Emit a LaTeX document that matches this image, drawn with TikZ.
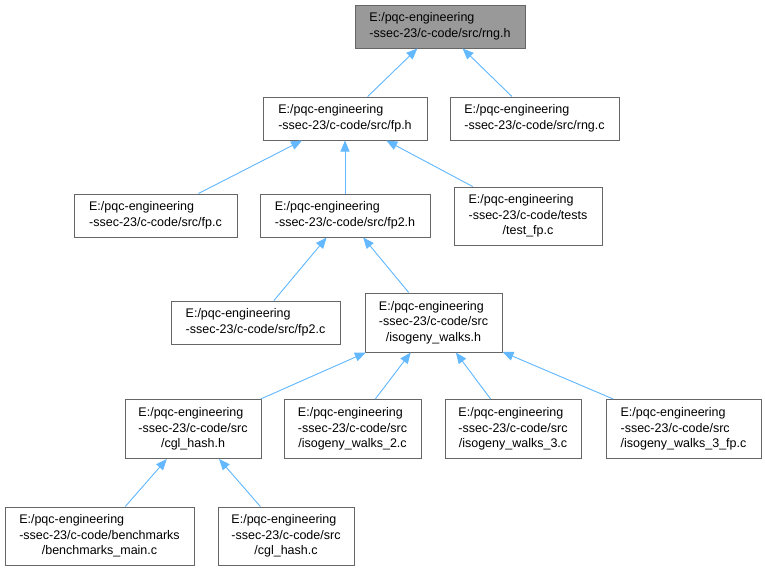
\documentclass[tikz,border=0pt]{standalone}
\usepackage{fontspec}
\setmainfont{Liberation Sans}
\usetikzlibrary{arrows.meta}
\definecolor{edgeblue}{HTML}{63B8FF}
\definecolor{boxline}{HTML}{666666}
\definecolor{curfill}{HTML}{999999}
\newcommand{\fname}[2]{\begin{tabular}{@{}l@{}}#1\\\multicolumn{1}{@{}c@{}}{#2}\end{tabular}}
\tikzset{
  filebox/.style={draw=boxline, line width=1pt, fill=white, inner sep=0pt, minimum height=43pt, font=\fontsize{12.5}{15.5}\selectfont},
  tallbox/.style={filebox, minimum height=59pt},
  curbox/.style={filebox, fill=curfill},
  incl/.style={->, draw=edgeblue, fill=edgeblue, line width=0.9pt}
}
\begin{document}
\begin{tikzpicture}[x=1pt, y=-1pt, >={Triangle[length=11pt,width=9pt]}]
\useasboundingbox (0,0) rectangle (765,571);
\node[curbox, minimum width=170pt] (rngh) at (440,26.5) {\fname{E:/pqc-engineering}{-ssec-23/c-code/src/rng.h}};
\node[filebox, minimum width=164pt] (fph) at (345,118.5) {\fname{E:/pqc-engineering}{-ssec-23/c-code/src/fp.h}};
\node[filebox, minimum width=169pt] (rngc) at (534.5,118.5) {\fname{E:/pqc-engineering}{-ssec-23/c-code/src/rng.c}};
\node[filebox, minimum width=163pt] (fpc) at (155.5,215.5) {\fname{E:/pqc-engineering}{-ssec-23/c-code/src/fp.c}};
\node[filebox, minimum width=170pt] (fp2h) at (345,215.5) {\fname{E:/pqc-engineering}{-ssec-23/c-code/src/fp2.h}};
\node[tallbox, minimum width=148pt, minimum height=58pt] (testfp) at (528,216) {\fname{E:/pqc-engineering\\-ssec-23/c-code/tests}{/test\_fp.c}};
\node[filebox, minimum width=169pt] (fp2c) at (255.5,322.5) {\fname{E:/pqc-engineering}{-ssec-23/c-code/src/fp2.c}};
\node[tallbox, minimum width=137pt] (isoh) at (433.5,322.5) {\fname{E:/pqc-engineering\\-ssec-23/c-code/src}{/isogeny\_walks.h}};
\node[tallbox, minimum width=136pt] (cglh) at (193,429) {\fname{E:/pqc-engineering\\-ssec-23/c-code/src}{/cgl\_hash.h}};
\node[tallbox, minimum width=137pt] (iso2) at (352.5,429) {\fname{E:/pqc-engineering\\-ssec-23/c-code/src}{/isogeny\_walks\_2.c}};
\node[tallbox, minimum width=136pt] (iso3) at (513,429) {\fname{E:/pqc-engineering\\-ssec-23/c-code/src}{/isogeny\_walks\_3.c}};
\node[tallbox, minimum width=155pt] (iso3fp) at (683.5,429) {\fname{E:/pqc-engineering\\-ssec-23/c-code/src}{/isogeny\_walks\_3\_fp.c}};
\node[tallbox, minimum width=189pt, minimum height=58pt] (benchmain) at (99.5,536) {\fname{E:/pqc-engineering\\-ssec-23/c-code/benchmarks}{/benchmarks\_main.c}};
\node[tallbox, minimum width=136pt, minimum height=58pt] (cglc) at (286,536) {\fname{E:/pqc-engineering\\-ssec-23/c-code/src}{/cgl\_hash.c}};
\draw[incl] (fph)--(rngh);
\draw[incl] (rngc)--(rngh);
\draw[incl] (fpc)--(fph);
\draw[incl] (fp2h)--(fph);
\draw[incl] (testfp)--(fph);
\draw[incl] (fp2c)--(fp2h);
\draw[incl] (isoh)--(fp2h);
\draw[incl] (cglh)--(isoh);
\draw[incl] (iso2)--(isoh);
\draw[incl] (iso3)--(isoh);
\draw[incl] (iso3fp)--(isoh);
\draw[incl] (benchmain)--(cglh);
\draw[incl] (cglc)--(cglh);
\end{tikzpicture}
\end{document}
